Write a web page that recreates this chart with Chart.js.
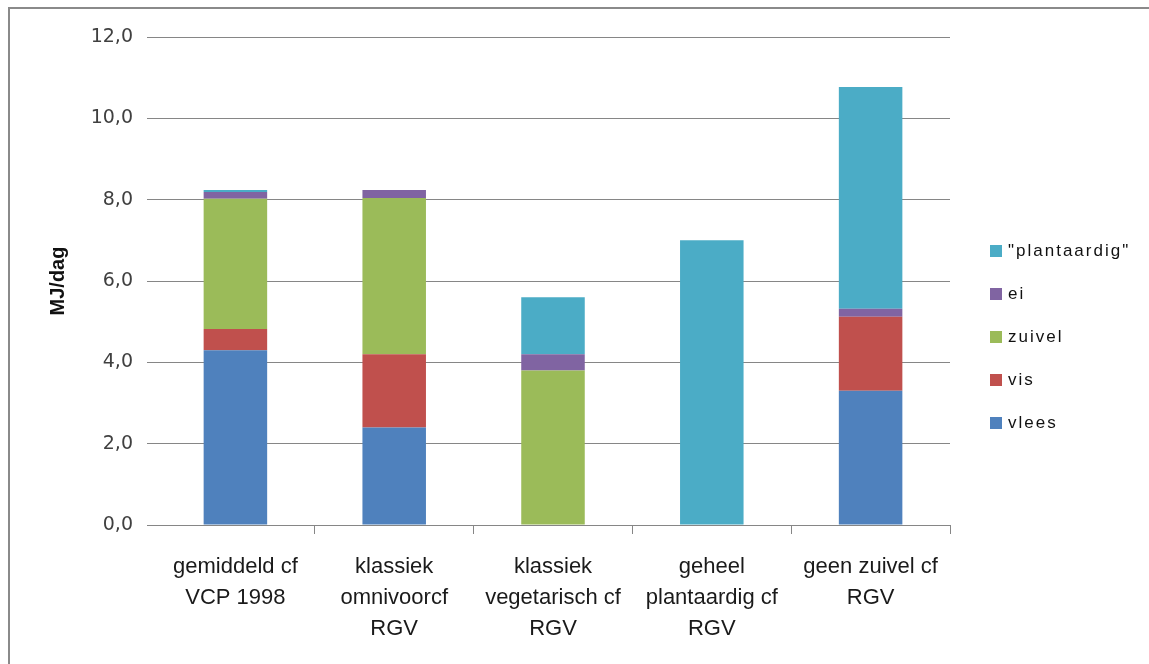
<!DOCTYPE html>
<html>
<head>
<meta charset="utf-8">
<script src="https://cdn.jsdelivr.net/npm/chart.js@4/dist/chart.umd.min.js"></script>
<style>
  body { margin: 0; background: #fff; overflow: hidden; }
  #frame { position: absolute; left: 8px; top: 7px; width: 1200px; height: 700px; border: 2px solid #8a8a8a; }
  #wrap { position: absolute; left: 0; top: 0; width: 1149px; height: 664px; }
  #legend { position: absolute; left: 990px; top: 229px; font-family: "Liberation Sans", Arial, sans-serif; font-size: 17px; letter-spacing: 2px; color: #111; }
  #legend div { height: 43px; line-height: 43px; white-space: nowrap; }
  #legend span.box { display: inline-block; width: 12px; height: 12px; margin-right: 6px; vertical-align: middle; position: relative; top: -1px; }
</style>
</head>
<body>
<div id="frame"></div>
<div id="wrap"><canvas id="chart1" width="1149" height="664"></canvas></div>
<div id="legend"></div>
<script>
const categories = [
  ["gemiddeld cf", "VCP 1998"],
  ["klassiek", "omnivoorcf", "RGV"],
  ["klassiek", "vegetarisch cf", "RGV"],
  ["geheel", "plantaardig cf", "RGV"],
  ["geen zuivel cf", "RGV"],
];
const vlees = [4.3, 2.4, 0, 0, 3.3];
const vis = [0.52, 1.8, 0, 0, 1.82];
const zuivel = [3.2, 3.84, 3.8, 0, 0];
const ei = [0.17, 0.2, 0.4, 0, 0.2];
const plantaardig = [0.05, 0, 1.4, 7.0, 5.45];
const yTickLabels = ["0,0", "2,0", "4,0", "6,0", "8,0", "10,0", "12,0"];

const series = [
  { label: "vlees", data: vlees, color: "#4F81BD" },
  { label: "vis", data: vis, color: "#C0504D" },
  { label: "zuivel", data: zuivel, color: "#9BBB59" },
  { label: "ei", data: ei, color: "#8064A2" },
  { label: "\"plantaardig\"", data: plantaardig, color: "#4BACC6" },
];

const ctx1 = document.getElementById("chart1");

new Chart(ctx1, {
  type: "bar",
  data: {
    labels: categories,
    datasets: series.map((s) => ({
      label: s.label,
      data: s.data,
      backgroundColor: s.color,
      borderWidth: 0,
      barPercentage: 0.4,
      categoryPercentage: 1,
    })),
  },
  options: {
    responsive: false,
    animation: false,
    layout: { padding: { top: 37, right: 199, bottom: 0, left: 0 } },
    plugins: {
      legend: { display: false },
      tooltip: { enabled: false },
    },
    scales: {
      x: {
        stacked: true,
        afterFit: (scale) => { scale.height = 139; },
        border: { display: false },
        grid: {
          offset: true,
          drawOnChartArea: false,
          drawTicks: true,
          tickLength: 9,
          // no tick mark at the very left edge
          color: (c) => (c.index === 0 ? "rgba(0,0,0,0)" : "#868686"),
        },
        ticks: {
          padding: 17,
          color: "#1a1a1a",
          maxRotation: 0,
          autoSkip: false,
          font: { family: "'Liberation Sans', Arial, sans-serif", size: 22, lineHeight: "31px" },
        },
      },
      y: {
        stacked: true,
        min: 0,
        max: 12,
        afterFit: (scale) => { scale.width = 156; },
        border: { display: false },
        grid: { color: "#868686", tickLength: 9 },
        ticks: {
          stepSize: 2,
          padding: 14,
          color: "#404040",
          font: { family: "'DejaVu Sans', sans-serif", size: 19 },
          callback: (v) => yTickLabels[Math.round(v / 2)],
        },
        title: {
          display: true,
          text: "MJ/dag",
          color: "#111",
          padding: { top: 46, bottom: 0 },
          font: { family: "'Liberation Sans', Arial, sans-serif", size: 20, weight: "bold" },
        },
      },
    },
  },
});

const legend = document.getElementById("legend");
series.slice().reverse().forEach((s) => {
  const item = document.createElement("div");
  const box = document.createElement("span");
  box.className = "box";
  box.style.background = s.color;
  item.appendChild(box);
  item.appendChild(document.createTextNode(s.label));
  legend.appendChild(item);
});
</script>
</body>
</html>
